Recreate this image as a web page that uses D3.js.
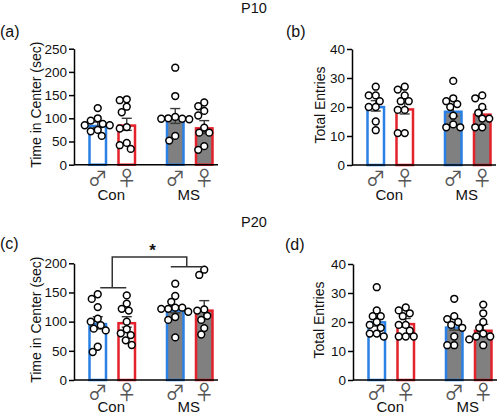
<!DOCTYPE html>
<html><head><meta charset="utf-8">
<script src="https://cdn.jsdelivr.net/npm/d3@7"></script>
<style>body{margin:0;background:#fff}svg{display:block;font-family:Arial,"Liberation Sans",sans-serif}</style>
</head><body><svg id="c" width="500" height="414"></svg>
<script>
// ---- data ----
const groups = ["Con", "MS"];
const sexes = ["♂", "♀"];
const sectionTitles = ["P10", "P20"];
const panelLabels = ["(a)", "(b)", "(c)", "(d)"];
const yTitles = ["Time in Center (sec)", "Total Entries", "Time in Center (sec)", "Total Entries"];
const ticksTime10 = [0, 50, 100, 150, 200, 250];
const ticksTime20 = [0, 50, 100, 150, 200];
const ticksEntries = [0, 10, 20, 30, 40];
// order of bars: Con♂, Con♀, MS♂, MS♀
const aMeans = [86, 87, 105, 81];
const aSem = [6, 13, 16, 14];
const aPoints = [[122,100,95,88,85,85,75,72,62],[141,139,125,113,81,78,47,42,34],[209,148,103,100,99,99,98,62,52],[134,126,116,106,80,69,69,40,32]];
const bMeans = [20.4, 19.6, 18.8, 17.8];
const bSem = [1.8, 2.0, 2.0, 1.4];
const bPoints = [[27,24,24,22,20,20,15,12],[27,26,24,22,22,19,19,11,11],[29,23,22,21,20,17,14,13,13],[24,23,20,18,16,16,13,13]];
const cMeans = [98, 99.5, 121, 121];
const cSem = [10.5, 9, 6, 15];
const cPoints = [[147,139,125,105,100,94,88,85,57,48],[145,131,122,119,100,87,80,77,68,60],[165,144,134,124,124,122,122,117,108,103,73],[189,180,121,119,110,103,89,78]];
const dMeans = [20.3, 19.7, 18.5, 17.4];
const dSem = [1.7, 1.5, 1.3, 1.8];
const dPoints = [[32,24,22,22,20,19,18,16,16,15],[25,24,23,22,19,19,17,15,15,15],[28,22,21,20,19,18,15,12,12],[26,23,20,18,16,15,15,14,12]];
// significance bracket (panel c): levels in data units [left foot, right foot, top]
const sigLevels = [158, 194, 211];
const sigLabel = "*";

// ---- styles / layout ----
const BLUE = "#2a80e4", RED = "#e3222b", GRAY = "#808080";
const svg = d3.select("#c");

const panels = [
  {label: panelLabels[0], title: yTitles[0], means: aMeans, sem: aSem, pts: aPoints, ticks: ticksTime10, ax: 74, y0: 164.7, y1: 48.7, lx: 0, ly: 37, tx: 37, sy: 12.5, gy: 35},
  {label: panelLabels[1], title: yTitles[1], means: bMeans, sem: bSem, pts: bPoints, ticks: ticksEntries, ax: 352, y0: 165, y1: 49, lx: 286, ly: 37, tx: 321, sy: 12.5, gy: 35},
  {label: panelLabels[2], title: yTitles[2], means: cMeans, sem: cSem, pts: cPoints, ticks: ticksTime20, ax: 74, y0: 380, y1: 263.3, lx: 0, ly: 249, tx: 37, sig: true, sy: 11.5, gy: 31.5},
  {label: panelLabels[3], title: yTitles[3], means: dMeans, sem: dSem, pts: dPoints, ticks: ticksEntries, ax: 353, y0: 380, y1: 264, lx: 285, ly: 250, tx: 320, sy: 11.5, gy: 31.5}
];

svg.selectAll("text.sect").data(sectionTitles).enter().append("text")
  .attr("x", 254).attr("y", (d, i) => i === 0 ? 13 : 227)
  .attr("text-anchor", "middle").attr("font-size", 14.5).attr("fill", "#111").text(d => d);

function swarm(vals, y, r) {
  const placed = [];
  const minD = 2 * r + 0.2;
  return vals.map(v => {
    const py = y(v);
    let best = 0;
    for (let k = 0; k < 60; k++) {
      const off = (k % 2 === 0 ? 1 : -1) * Math.ceil(k / 2);
      const ok = placed.every(p => Math.hypot(p.x - off, p.y - py) >= minD);
      if (ok) { best = off; break; }
    }
    const o = {x: best, y: py, v};
    placed.push(o);
    return o;
  });
}

panels.forEach(P => {
  const g = svg.append("g");
  const y = d3.scaleLinear().domain([0, P.ticks[P.ticks.length - 1]]).range([P.y0, P.y1]);
  const xg = d3.scaleBand().domain(groups).range([P.ax - 0.5, P.ax + 154.5]);
  const xs = d3.scalePoint().domain(sexes).range([-14.5, 14.5]);
  const bw = 19;
  const bars = [];
  groups.forEach((gr, gi) => sexes.forEach((s, si) => {
    const i = gi * 2 + si;
    bars.push({gr, s, gi, si, cx: xg(gr) + xg.bandwidth() / 2 + xs(s), m: P.means[i], e: P.sem[i], pts: P.pts[i]});
  }));

  // bars
  g.selectAll("rect.bar").data(bars).enter().append("rect")
    .attr("x", d => d.cx - bw / 2 + 1.25).attr("width", bw - 2.5)
    .attr("y", d => y(d.m) + 1.25).attr("height", d => y(0) - y(d.m) - 1.25)
    .attr("fill", d => d.gi === 0 ? "#fff" : GRAY)
    .attr("stroke", d => d.si === 0 ? BLUE : RED).attr("stroke-width", 2.5);

  // error bars
  const eb = g.selectAll("g.err").data(bars).enter().append("g").attr("stroke", "#3a3a3a").attr("stroke-width", 1.4);
  eb.append("line").attr("x1", d => d.cx).attr("x2", d => d.cx).attr("y1", d => y(d.m - d.e)).attr("y2", d => y(d.m + d.e));
  eb.append("line").attr("x1", d => d.cx - 5).attr("x2", d => d.cx + 5).attr("y1", d => y(d.m + d.e)).attr("y2", d => y(d.m + d.e));
  eb.append("line").attr("x1", d => d.cx - 5).attr("x2", d => d.cx + 5).attr("y1", d => y(d.m - d.e)).attr("y2", d => y(d.m - d.e));

  // dots
  const r = 3.4;
  bars.forEach(b => {
    const sw = swarm(b.pts, y, r);
    g.selectAll(null).data(sw).enter().append("circle")
      .attr("cx", d => b.cx + d.x).attr("cy", d => d.y).attr("r", r)
      .attr("fill", "#fff").attr("stroke", "#000").attr("stroke-width", 1.5);
  });

  // axes
  const axis = d3.axisLeft(y).tickValues(P.ticks).tickSize(5).tickPadding(2).tickSizeOuter(0);
  const ag = g.append("g").attr("transform", `translate(${P.ax},0)`).call(axis);
  ag.select(".domain").attr("stroke", "#000").attr("stroke-width", 1.5);
  ag.selectAll(".tick line").attr("stroke", "#000").attr("stroke-width", 1.5);
  ag.selectAll(".tick text").attr("font-size", 13.5).attr("fill", "#111").attr("font-family", "Arial, 'Liberation Sans', sans-serif");
  g.append("line").attr("x1", P.ax).attr("x2", P.ax + 144).attr("y1", P.y0).attr("y2", P.y0)
    .attr("stroke", "#000").attr("stroke-width", 1.5);

  // x labels
  g.selectAll("text.sex").data(bars).enter().append("text")
    .attr("x", d => d.cx).attr("y", P.y0 + P.sy).attr("text-anchor", "middle").attr("dominant-baseline", "central")
    .attr("font-family", "'Noto Sans CJK JP', 'DejaVu Sans', sans-serif").attr("font-size", 20).attr("fill", "#555").text(d => d.s);
  g.selectAll("text.grp").data(groups).enter().append("text")
    .attr("x", d => xg(d) + xg.bandwidth() / 2 - 1).attr("y", P.y0 + P.gy).attr("text-anchor", "middle")
    .attr("font-size", 15).attr("fill", "#111").text(d => d);

  // titles
  g.append("text").attr("transform", `translate(${P.tx},${(P.y0 + P.y1) / 2 - 2}) rotate(-90)`)
    .attr("text-anchor", "middle").attr("dominant-baseline", "middle").attr("font-size", 14).attr("fill", "#111").text(P.title);
  g.append("text").attr("x", P.lx).attr("y", P.ly).attr("font-size", 16).attr("fill", "#111").text(P.label);

  if (P.sig) {
    const cL = xg(groups[0]) + xg.bandwidth() / 2, cR = xg(groups[1]) + xg.bandwidth() / 2 - 3;
    const yl = y(sigLevels[0]), yr = y(sigLevels[1]), yt = y(sigLevels[2]);
    const path = `M${cL - 12},${yl}H${cL + 14}M${cL},${yl}V${yt}H${cR}V${yr}M${cR - 16},${yr}H${cR + 16}`;
    g.append("path").attr("d", path).attr("fill", "none").attr("stroke", "#333").attr("stroke-width", 1.5);
    g.append("text").attr("x", (cL + cR) / 2 + 3).attr("y", yt - 1).attr("text-anchor", "middle")
      .attr("font-size", 17).attr("font-weight", "bold").attr("fill", "#111").text(sigLabel);
  }
});
</script></body></html>
